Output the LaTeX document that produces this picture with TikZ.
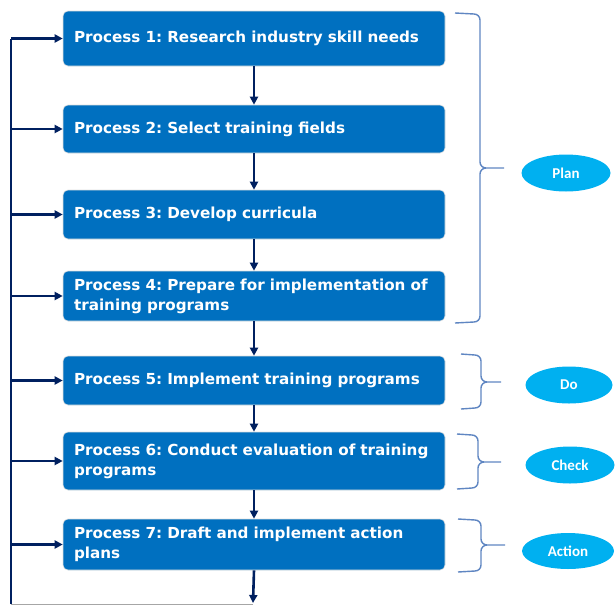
\documentclass[tikz,border=0pt]{standalone}
\usepackage{fontspec}
\setmainfont{DejaVu Sans}
\newfontfamily\ovalfont{Carlito}
\usepackage{tikz}
\usetikzlibrary{positioning,arrows.meta,shapes.geometric,calc}
\usepackage{xcolor}
\definecolor{boxblue}{HTML}{0070C0}
\definecolor{navy}{HTML}{002060}
\definecolor{skyblue}{HTML}{00B0F0}
\definecolor{bracegray}{HTML}{5F86C2}
\frenchspacing

\begin{document}
\begin{tikzpicture}[x=1pt, y=-1pt,
    procBox/.style={rectangle, rounded corners=5pt, draw=white!75!gray, line width=0.6pt, fill=boxblue, text=white, font=\fontsize{15.2}{20}\selectfont\bfseries, inner sep=0pt, minimum width=382pt, text width=360pt, align=left},
    phaseOval/.style={ellipse, fill=skyblue, text=white, font=\ovalfont\fontsize{15}{17}\selectfont\bfseries, inner sep=0pt, minimum width=89pt, minimum height=37pt},
    flowArrow/.style={-{Triangle[length=8pt, width=8pt]}, line width=2.6pt, draw=navy},
    braceLine/.style={draw=bracegray, line width=1.4pt, rounded corners=0pt}
]
    \useasboundingbox (0,0) rectangle (615,605);

    % Process boxes
    \node[procBox, minimum height=55pt] (box1) at (254, 38.5) {Process 1: Research industry skill needs};
    \node[procBox, minimum height=48pt] (box2) at (254, 129) {Process 2: Select training fields};
    \node[procBox, minimum height=49pt] (box3) at (254, 214.5) {Process 3: Develop curricula};
    \node[procBox, minimum height=50pt] (box4) at (254, 296) {Process 4: Prepare for implementation of\\training programs};
    \node[procBox, minimum height=49pt] (box5) at (254, 380.5) {Process 5: Implement training programs};
    \node[procBox, minimum height=58pt] (box6) at (254, 461) {Process 6: Conduct evaluation of training\\programs};
    \node[procBox, minimum height=51pt] (box7) at (254, 544.5) {Process 7: Draft and implement action\\plans};

    % Phase ovals
    \node[phaseOval] (plan) at (566, 173) {Plan};
    \node[phaseOval, minimum width=87pt] (do) at (569, 385) {Do};
    \node[phaseOval] (check) at (570, 465) {Check};
    \node[phaseOval, minimum width=92pt, minimum height=36pt] (action) at (568, 551) {Action};

    % Downward sequence arrows
    \draw[flowArrow] (box1.south) -- (box2.north);
    \draw[flowArrow] (box2.south) -- (box3.north);
    \draw[flowArrow] (box3.south) -- (box4.north);
    \draw[flowArrow] (box4.south) -- (box5.north);
    \draw[flowArrow] (box5.south) -- (box6.north);
    \draw[flowArrow] (box6.south) -- (box7.north);
    \coordinate (loopEnd) at (253, 603);
    \draw[flowArrow] (box7.south) -- (loopEnd);

    % Feedback rail on the left
    \coordinate (loopCorner) at (11, 604);
    \draw[draw=gray!70, line width=1pt] (loopEnd |- loopCorner) -- (loopCorner);
    \draw[navy, line width=2.6pt] (loopCorner) -- (box1.west -| loopCorner);
    \draw[flowArrow] (box1.west -| loopCorner) -- (box1.west);
    \draw[flowArrow] (box2.west -| loopCorner) -- (box2.west);
    \draw[flowArrow] (box3.west -| loopCorner) -- (box3.west);
    \draw[flowArrow] (box4.west -| loopCorner) -- (box4.west);
    \draw[flowArrow] (box5.west -| loopCorner) -- (box5.west);
    \draw[flowArrow] (box6.west -| loopCorner) -- (box6.west);
    \draw[flowArrow] (box7.west -| loopCorner) -- (box7.west);

    % Braces
    \draw[braceLine] (455,13) -- (474,14) to[out=0,in=90] (480,20) -- (480,162) to[out=-90,in=180] (486,168) -- (504,168);
    \draw[braceLine] (486,168) to[out=180,in=90] (480,174) -- (480,316) to[out=-90,in=0] (474,322) -- (455,323);
    \draw[braceLine] (461,354) -- (475,355) to[out=0,in=90] (481,361) -- (481,376) to[out=-90,in=180] (487,382) -- (501,382);
    \draw[braceLine] (487,382) to[out=180,in=90] (481,388) -- (481,402) to[out=-90,in=0] (475,408) -- (461,409);
    \draw[braceLine] (457,434) -- (472,435) to[out=0,in=90] (478,441) -- (478,456) to[out=-90,in=180] (484,462) -- (501,462);
    \draw[braceLine] (484,462) to[out=180,in=90] (478,468) -- (478,482) to[out=-90,in=0] (472,488) -- (457,489);
    \draw[braceLine] (458,519) -- (475,520) to[out=0,in=90] (481,526) -- (481,539) to[out=-90,in=180] (487,545) -- (505,545);
    \draw[braceLine] (487,545) to[out=180,in=90] (481,551) -- (481,565) to[out=-90,in=0] (475,571) -- (458,572);
\end{tikzpicture}
\end{document}
